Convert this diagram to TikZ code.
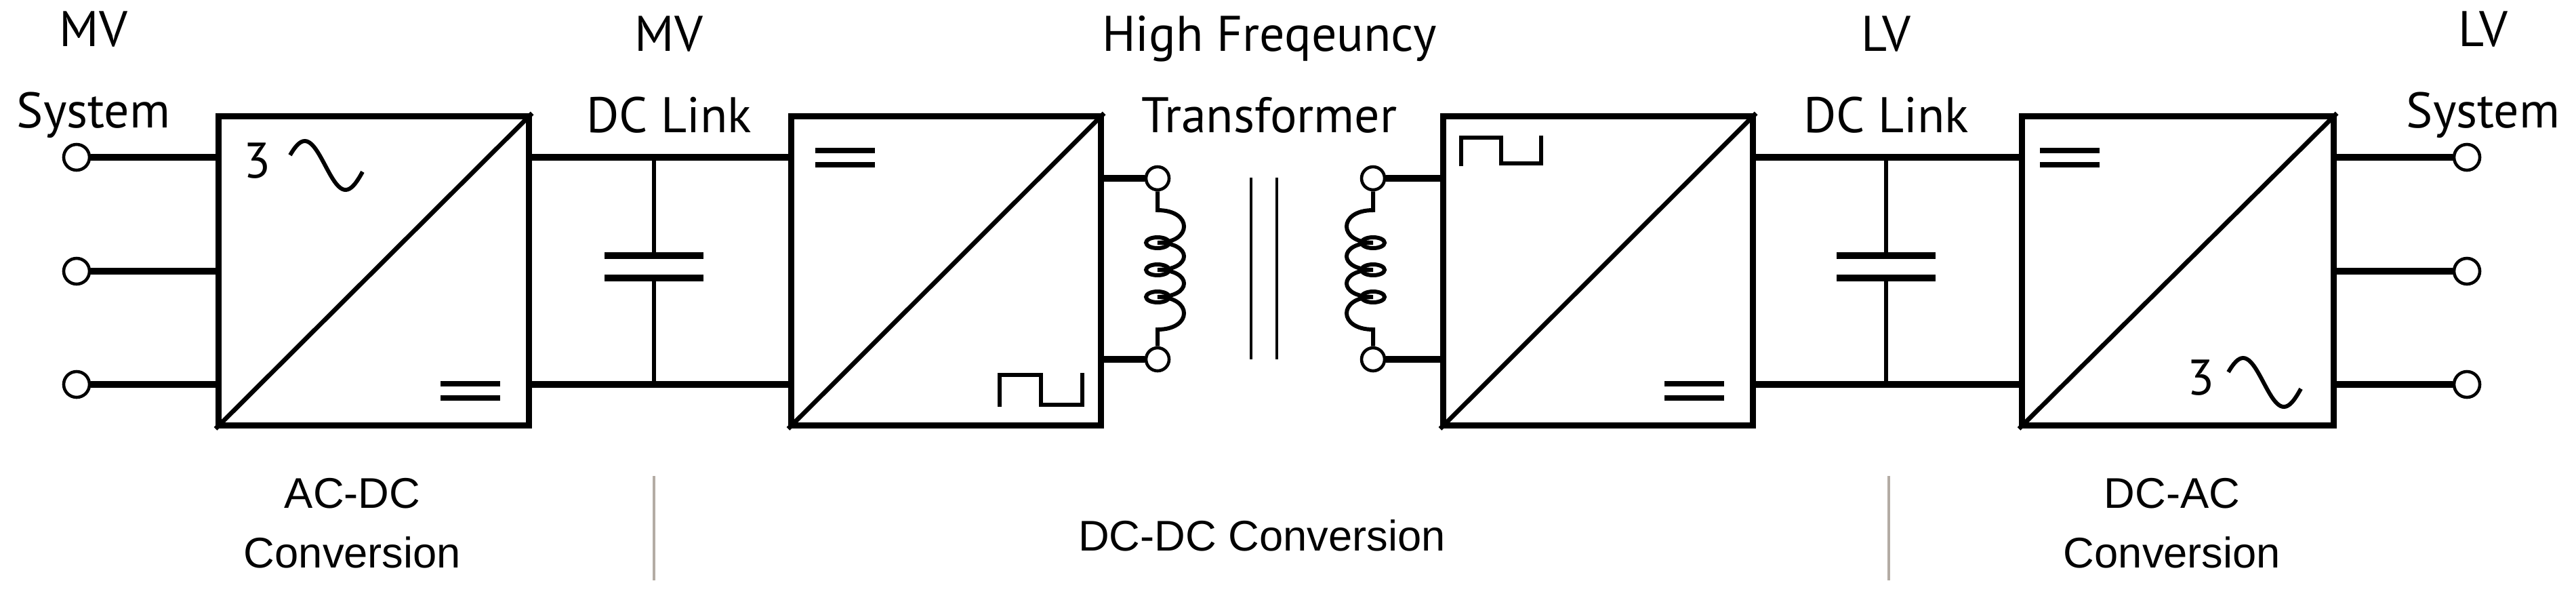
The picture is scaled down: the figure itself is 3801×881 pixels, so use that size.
\documentclass[tikz,border=0pt]{standalone}
\usepackage{fontspec}
\setmainfont{Liberation Sans}
\newfontfamily\topfont{PT Sans}
\begin{document}
\begin{tikzpicture}[x=0.01cm,y=-0.01cm,
  box/.style={draw,line width=2.6pt},
  diag/.style={line width=1.9pt},
  wire/.style={line width=2.9pt},
  thin/.style={line width=1.5pt},
  plate/.style={line width=2.6pt},
  coil/.style={line width=1.7pt},
  term/.style={circle,draw,line width=1.3pt,fill=white,minimum size=0.38cm,inner sep=0pt},
  tlab/.style={font=\topfont\fontsize{21}{25}\selectfont,align=center},
  blab/.style={font=\fontsize{18}{22}\selectfont,align=center},
  sep/.style={draw=black!30!brown!30!gray!60,line width=1.2pt}]
\useasboundingbox (0,0) rectangle (3801,881);
% boxes
\foreach \n/\l/\r in {b1/318/776,b2/1163/1620,b3/2125/2582,b4/2979/3439}{
  \node[box,minimum width={(\r-\l)*0.01cm},minimum height=4.56cm,inner sep=0pt,anchor=north west] (\n) at (\l,167) {};
  \draw[diag] (\n.south west) -- (\n.north east);
}
% terminals
\foreach \i/\y in {1/232,2/400,3/567}{
  \node[term] (L\i) at (113,\y) {};
  \coordinate (Lb\i) at (318,\y);
  \draw[wire] (L\i) -- (Lb\i);
  \node[term] (R\i) at (3640,\y) {};
  \coordinate (Rb\i) at (3439,\y);
  \draw[wire] (Rb\i) -- (R\i);
}
% DC links
\foreach \a/\b/\cx/\nm in {776/1163/965/M,2582/2979/2783/N}{
  \coordinate (\nm t1) at (\a,232); \coordinate (\nm t2) at (\b,232);
  \coordinate (\nm u1) at (\a,567); \coordinate (\nm u2) at (\b,567);
  \draw[wire] (\nm t1) -- (\nm t2);
  \draw[wire] (\nm u1) -- (\nm u2);
  \coordinate (\nm ct) at (\cx,232); \coordinate (\nm cb) at (\cx,567);
  \coordinate (\nm p1) at (\cx,377); \coordinate (\nm p2) at (\cx,410);
  \draw[thin] (\nm ct) -- (\nm p1);
  \draw[thin] (\nm p2) -- (\nm cb);
  \draw[plate] (\cx-73,377) -- (\cx+73,377);
  \draw[plate] (\cx-73,410) -- (\cx+73,410);
}
% equals symbols
\foreach \x/\y in {650/566,1203/222,2456/566,3010/222}{
  \draw[plate,line width=2.4pt] (\x,\y) -- (\x+88,\y);
  \draw[plate,line width=2.4pt] (\x,\y+21) -- (\x+88,\y+21);
}
% square waves
\draw[line width=1.8pt] (1475,600) -- (1475,553) -- (1536,553) -- (1536,597) -- (1597,597) -- (1597,550);
\draw[line width=1.8pt] (2156,245) -- (2156,203) -- (2215,203) -- (2215,241) -- (2274,241) -- (2274,200);
% 3~ symbols
\node[tlab,anchor=center] (t3a) at (380,237) {3};
\draw[line width=1.7pt,domain=0:1,samples=40,smooth] plot ({428+\x*107},{244-36*sin(\x*320+25)});
\node[tlab,anchor=center] (t3b) at (3248,557) {3};
\draw[line width=1.7pt,domain=0:1,samples=40,smooth] plot ({3288+\x*107},{564-36*sin(\x*320+25)});
% transformer
\foreach \cx/\s/\nm in {1708/1/P,2026/-1/S}{
  \node[term,minimum size=0.34cm] (\nm a) at (\cx,263) {};
  \node[term,minimum size=0.34cm] (\nm b) at (\cx,530) {};
  \draw[coil] (\nm a.south) -- (\cx,310)
    .. controls (\cx+\s*52,310) and (\cx+\s*52,358) .. (\cx,358)
    .. controls (\cx+\s*52,358) and (\cx+\s*52,398) .. (\cx,398)
    .. controls (\cx+\s*52,398) and (\cx+\s*52,438) .. (\cx,438)
    .. controls (\cx+\s*52,438) and (\cx+\s*52,486) .. (\cx,486) -- (\nm b.north);
  \foreach \y in {358,398,438}{
    \draw[coil] (\cx,\y) ellipse[x radius=17,y radius=8];
  }
}
\coordinate (w1) at (1620,263); \coordinate (w2) at (1620,530);
\coordinate (w3) at (2125,263); \coordinate (w4) at (2125,530);
\draw[wire] (w1) -- (Pa); \draw[wire] (w2) -- (Pb);
\draw[wire] (Sa) -- (w3); \draw[wire] (Sb) -- (w4);
\draw[line width=1.2pt] (1846,262) -- (1846,530);
\draw[line width=1.2pt] (1884,262) -- (1884,530);
% labels
\node[tlab] (l1) at (138,110) {MV\\[9pt]System};
\node[tlab] (l2) at (987,110) {MV\\[9pt]DC Link};
\node[tlab] (l3) at (1873,110) {High Freqeuncy\\[9pt]Transformer};
\node[tlab] (l4) at (2783,110) {LV\\[9pt]DC Link};
\node[tlab] (l5) at (3664,110) {LV\\[9pt]System};
\node[blab] (m1) at (520,772) {AC-DC\\[3pt]Conversion};
\node[blab] (m2) at (1862,790) {DC-DC Conversion};
\node[blab] (m3) at (3205,772) {DC-AC\\[3pt]Conversion};
\draw[sep] (965,702) -- (965,856);
\draw[sep] (2787,702) -- (2787,856);
\end{tikzpicture}
\end{document}
